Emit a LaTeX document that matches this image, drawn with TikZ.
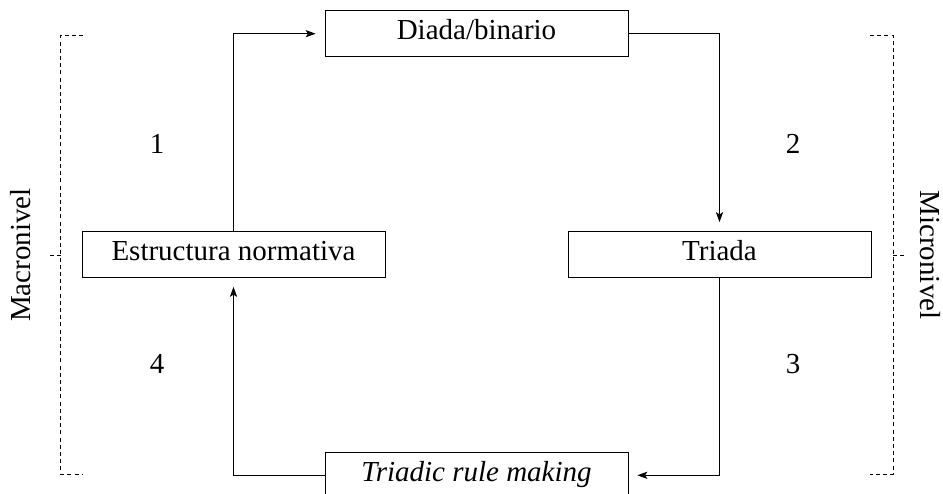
\documentclass[tikz,border=0pt]{standalone}
\usepackage{fontspec}
\setmainfont{Liberation Serif}
\usetikzlibrary{arrows, arrows.meta, matrix}

\begin{document}
\begin{tikzpicture}[x = 0.5pt, y = -0.5pt, font = \fontsize{14.5}{17}\selectfont,
    box/.style = {draw, minimum width = 151.5pt, minimum height = 23pt, inner sep = 0pt},
    vh/.style = {to path = {|- (\tikztotarget)}},
    hv/.style = {to path = {-| (\tikztotarget)}},
    level/.style = {dash pattern = on 2pt off 1.6pt, line width = 0.35pt}]
      \useasboundingbox (0,0) rectangle (943,493);
      \matrix (m) [matrix of nodes, nodes = {box}, row sep = 87pt, column sep = -30.4pt,
                   text height = 1.5ex, text depth = 0.25ex] at (476.5,254.5)
      {
        & Diada/binario & \\
        Estructura normativa & & Triada \\
        & \textit{Triadic rule making} & \\
      };
      \path[->, >={Stealth[length = 5pt, width = 3.6pt, inset = 1.2pt]}, shorten > = 4.5pt]
                (m-2-1.north) edge[vh] (m-1-2.west)
                (m-1-2.east) edge[hv] (m-2-3.north)
                (m-2-3.south) edge[vh] (m-3-2.east)
                (m-3-2.west) edge[hv] (m-2-1.south);
      \node (n1) at (157,144) {1};
      \node (n2) at (793,144) {2};
      \node (n3) at (793,364) {3};
      \node (n4) at (157,364) {4};
      % niveles
      \draw[level] (83,35) -- (60.7,35) -- (60.7,474) -- (83,474)
                   (60.7,255) -- (47,255);
      \draw[level] (870,35) -- (893,35) -- (893,474) -- (870,474)
                   (893,255) -- (906,255);
      \node[rotate = 90] (macro) at (21,255) {Macronivel};
      \node[rotate = -90] (micro) at (930,255) {Micronivel};
    \end{tikzpicture}
\end{document}
